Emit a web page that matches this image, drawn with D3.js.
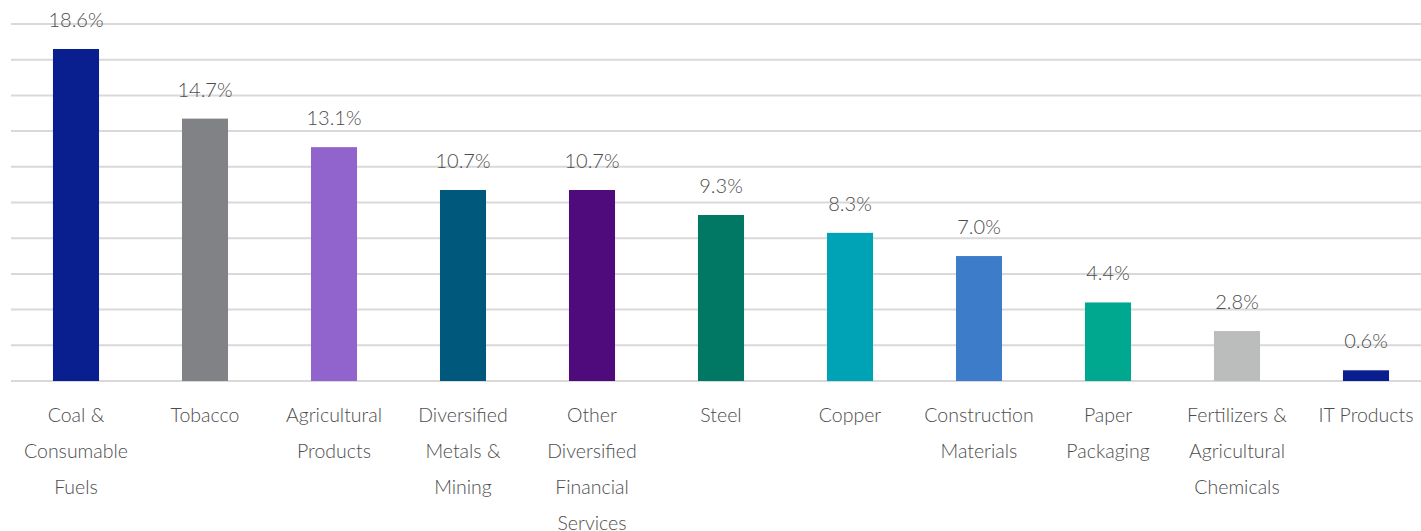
<!DOCTYPE html>
<html>
<head>
<meta charset="utf-8">
<script src="https://cdn.jsdelivr.net/npm/d3@7"></script>
<style>
  body { margin: 0; background: #fff; }
  svg { display: block; font-family: Lato, "Open Sans", sans-serif; }
</style>
</head>
<body>
<div id="chart"></div>
<script>
/* DATA */
const categories = [
  ["Coal &", "Consumable", "Fuels"],
  ["Tobacco"],
  ["Agricultural", "Products"],
  ["Diversified", "Metals &", "Mining"],
  ["Other", "Diversified", "Financial", "Services"],
  ["Steel"],
  ["Copper"],
  ["Construction", "Materials"],
  ["Paper", "Packaging"],
  ["Fertilizers &", "Agricultural", "Chemicals"],
  ["IT Products"]
];
const values = [18.6, 14.7, 13.1, 10.7, 10.7, 9.3, 8.3, 7.0, 4.4, 2.8, 0.6];
const colors = ["#0a1f8f", "#808285", "#9063cd", "#00587c", "#4f0b7b", "#007864",
  "#00a3b5", "#3d7cc9", "#00a88f", "#bbbcbc", "#0a1f8f"];
const gridTicks = [0, 2, 4, 6, 8, 10, 12, 14, 16, 18, 20];

/* LAYOUT */
const width = 1421, height = 531;
const keys = categories.map((c, i) => i);

const svg = d3.select("#chart").append("svg")
  .attr("width", width)
  .attr("height", height);

const xScale = d3.scaleBand()
  .domain(keys)
  .range([11.5, 1430.5])
  .paddingInner(0.643)
  .paddingOuter(0.3215);

const yScale = d3.scaleLinear()
  .domain([0, 20])
  .range([381, 24]);

// gridlines
svg.append("g")
  .selectAll("line")
  .data(gridTicks)
  .join("line")
  .attr("x1", 11)
  .attr("x2", width)
  .attr("y1", d => yScale(d))
  .attr("y2", d => yScale(d))
  .attr("stroke", "#d9d9d9")
  .attr("stroke-width", 2);

// bars
svg.append("g")
  .selectAll("rect")
  .data(values)
  .join("rect")
  .attr("x", (d, i) => xScale(i))
  .attr("width", xScale.bandwidth())
  .attr("y", d => yScale(d))
  .attr("height", d => yScale(0) - yScale(d))
  .attr("fill", (d, i) => colors[i]);

// value labels
svg.append("g")
  .selectAll("text")
  .data(values)
  .join("text")
  .attr("x", (d, i) => xScale(i) + xScale.bandwidth() / 2)
  .attr("y", d => yScale(d) - 22)
  .attr("text-anchor", "middle")
  .attr("font-size", 20)
  .attr("font-weight", 300)
  .attr("fill", "#4d4d4d")
  .text(d => d.toFixed(1) + "%");

// category labels
const labels = svg.append("g")
  .selectAll("text")
  .data(categories)
  .join("text")
  .attr("x", (d, i) => xScale(i) + xScale.bandwidth() / 2)
  .attr("y", 422)
  .attr("text-anchor", "middle")
  .attr("font-size", 19.5)
  .attr("font-weight", 300)
  .attr("fill", "#4d4d4d");

labels.selectAll("tspan")
  .data(d => d)
  .join("tspan")
  .attr("x", function () { return this.parentNode.getAttribute("x"); })
  .attr("dy", (d, i) => i === 0 ? 0 : 36)
  .text(d => d);
</script>
</body>
</html>
